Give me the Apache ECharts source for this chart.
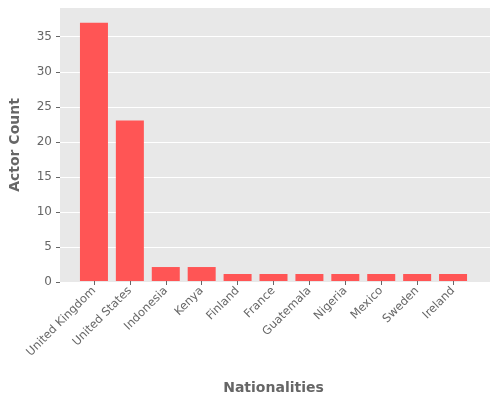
<!DOCTYPE html><html><head><meta charset="utf-8"><script src="https://cdn.jsdelivr.net/npm/echarts@6/dist/echarts.min.js"></script></head><body style="margin:0"><div id="c" style="width:500px;height:400px"></div><script>
const categories=["United Kingdom","United States","Indonesia","Kenya","Finland","France","Guatemala","Nigeria","Mexico","Sweden","Ireland"];
const counts=[37,23,2,2,1,1,1,1,1,1,1];
const yTicks=[0,5,10,15,20,25,30,35];
const ch=echarts.init(document.getElementById('c'));
const font='DejaVu Sans';
ch.setOption({
 animation:false,
 grid:[{left:60,right:10,top:8,bottom:118,show:true,backgroundColor:'#e8e8e8',borderWidth:0},
       {left:76,right:29,top:8,bottom:118}],
 xAxis:[{gridIndex:0,type:'value',min:0,max:1,show:false},
  {gridIndex:1,type:'category',data:categories,axisLine:{show:false},axisTick:{show:true,alignWithLabel:true,lineStyle:{color:'#666'},length:4},
   axisLabel:{rotate:45,color:'#666',fontSize:11.5,fontFamily:font,margin:8,interval:0},
   name:'Nationalities',nameLocation:'middle',nameGap:100,nameTextStyle:{color:'#666',fontSize:14,fontWeight:'bold',fontFamily:font}}],
 yAxis:[{gridIndex:0,type:'value',min:0,max:39.1,interval:5,
   axisLabel:{color:'#666',fontSize:12,fontFamily:font,customValues:yTicks},
   axisTick:{show:true,customValues:yTicks,length:4,lineStyle:{color:'#666'}},axisLine:{show:false},
   splitLine:{lineStyle:{color:'#fff',width:1}},
   name:'Actor Count',nameLocation:'middle',nameGap:38,nameTextStyle:{color:'#666',fontSize:14,fontWeight:'bold',fontFamily:font}},
  {gridIndex:1,type:'value',min:0,max:39.1,show:false}],
 series:[{type:'bar',xAxisIndex:1,yAxisIndex:1,data:counts,barWidth:28,itemStyle:{color:'#ff5555'}}]
});
</script></body></html>
